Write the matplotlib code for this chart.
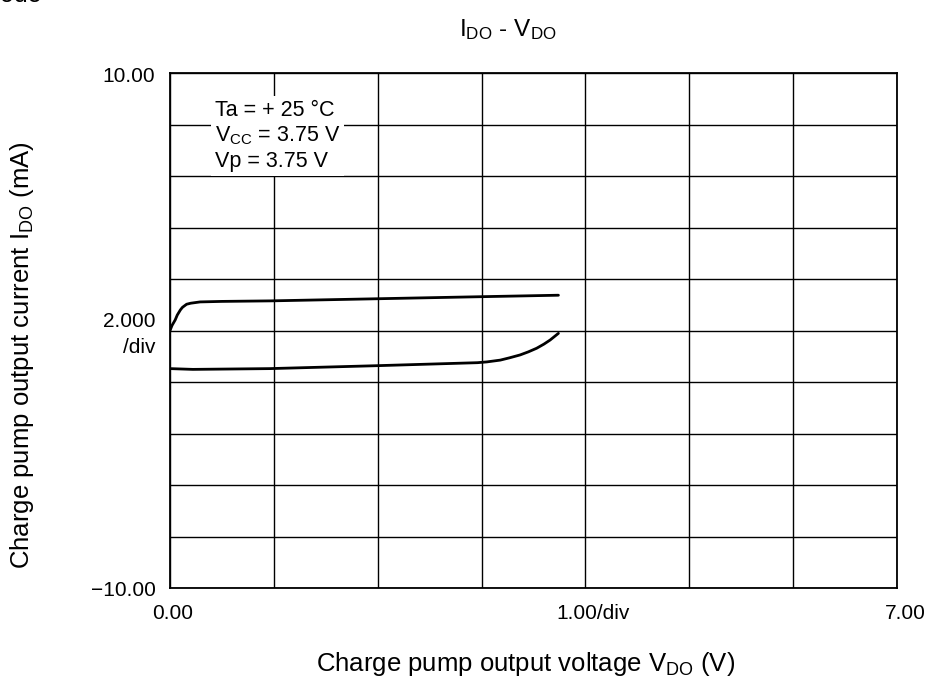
import matplotlib
matplotlib.use("Agg")

import numpy as np
import matplotlib.pyplot as plt

plt.rcParams['font.family'] = ['Liberation Sans', 'DejaVu Sans']
plt.rcParams['mathtext.fontset'] = 'custom'
plt.rcParams['mathtext.rm'] = 'Liberation Sans'
plt.rcParams['mathtext.it'] = 'Liberation Sans'

# upper curve (sink side), V in volts, I in mA
v_upper = [0.0, 0.02, 0.05, 0.07, 0.10, 0.12, 0.16, 0.20, 0.29, 0.50, 0.96,
           1.96, 2.96, 3.74]
i_upper = [0.0, 0.20, 0.41, 0.60, 0.80, 0.90, 1.02, 1.06, 1.11, 1.13, 1.15,
           1.23, 1.31, 1.37]

# lower curve (source side)
v_lower = [0.0, 0.22, 0.96, 1.96, 2.96, 3.05, 3.18, 3.27, 3.37, 3.45, 3.53,
           3.60, 3.66, 3.70, 3.74]
i_lower = [-1.48, -1.51, -1.48, -1.37, -1.25, -1.22, -1.15, -1.06, -0.95,
           -0.83, -0.69, -0.53, -0.37, -0.24, -0.11]

x_min, x_max, x_div = 0.0, 7.0, 1.0
y_min, y_max, y_div = -10.0, 10.0, 2.0

fig = plt.figure(figsize=(9.28, 6.93), dpi=100)
# axes box in pixels: x 170..897, y 73..588
W, H = 928.0, 693.0
ax = fig.add_axes([170 / W, 1 - 588 / H, (897 - 170) / W, (588 - 73) / H])
ax.set_xlim(x_min, x_max)
ax.set_ylim(y_min, y_max)

ax.set_xticks(np.arange(x_min, x_max + 0.01, x_div))
ax.set_yticks(np.arange(y_min, y_max + 0.01, y_div))
ax.grid(True, color='black', lw=1.0)
ax.tick_params(length=0, labelleft=False, labelbottom=False)
for s in ax.spines.values():
    s.set_linewidth(1.3)

ax.plot(v_upper, i_upper, color='black', lw=2.0, solid_capstyle='round',
        solid_joinstyle='round')
ax.plot(v_lower, i_lower, color='black', lw=2.0, solid_capstyle='round',
        solid_joinstyle='round')

# conditions box
ax.text(0.43, 8.95, 'Ta = + 25 \u00b0C\nV$_{\\rm CC}$ = 3.75 V\nVp = 3.75 V',
        fontsize=15.5, va='top', ha='left', linespacing=1.22,
        bbox=dict(facecolor='white', edgecolor='none', pad=3))

# axis scale labels
fs = 15
ax.text(-0.14, y_max - 0.15, '10.00', ha='right', va='center', fontsize=fs)
ax.text(-0.14, y_min - 0.1, '\u221210.00', ha='right', va='center', fontsize=fs)
ax.text(-0.14, 0.35, '2.000', ha='right', va='center', fontsize=fs)
ax.text(-0.14, -0.65, '/div', ha='right', va='center', fontsize=fs)
ax.text(x_min + 0.03, y_min - 1.0, '0.00', ha='center', va='center', fontsize=fs)
ax.text(4.07, y_min - 1.0, '1.00/div', ha='center', va='center', fontsize=fs)
ax.text(x_max + 0.08, y_min - 1.0, '7.00', ha='center', va='center', fontsize=fs)

fig.text(508 / W, 1 - 30 / H, 'I$_{\\rm DO}$ - V$_{\\rm DO}$',
         ha='center', va='center', fontsize=17.5)
fig.text(526 / W, 1 - 664 / H,
         'Charge pump output voltage V$_{\\rm DO}$ (V)',
         ha='center', va='center', fontsize=18.5)
fig.text(22 / W, 1 - 355 / H,
         'Charge pump output current I$_{\\rm DO}$ (mA)',
         ha='center', va='center', rotation=90, fontsize=18.5)

# clipped heading at the very top-left
fig.text(0.0, 1 - 2 / H, 'ode', ha='left', va='baseline', fontsize=18)

fig.savefig('out.png', dpi=100)
